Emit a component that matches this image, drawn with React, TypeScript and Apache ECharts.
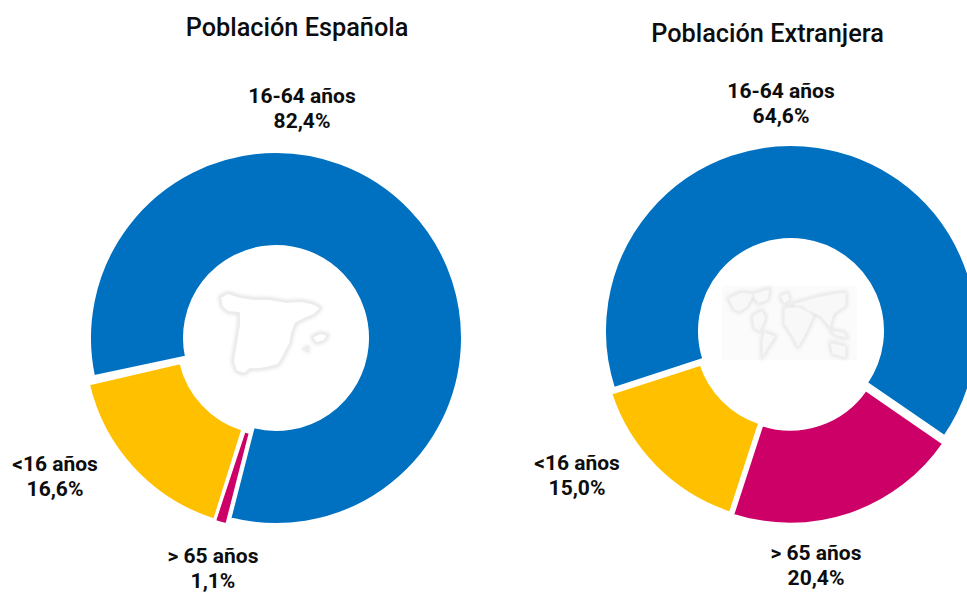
import React, { useEffect, useRef } from "react";
import * as echarts from "echarts";

const categories = ["16-64 años", "> 65 años", "<16 años"];
const spanishValues = [82.4, 1.1, 16.6];
const foreignValues = [64.6, 20.4, 15.0];
const spanishText = ["82,4%", "1,1%", "16,6%"];
const foreignText = ["64,6%", "20,4%", "15,0%"];
const colors = ["#0070C0", "#CC0066", "#FFC000"];
const titles = ["Población Española", "Población Extranjera"];

const spainPath =
  "M0 6 L8 2 L20 6 L34 8 L50 8 L66 11 L82 10 L94 13 L101 17 L94 24 L84 28 L76 32 L72 42 L70 53 L66 60 L62 68 L58 74 L50 76 L40 78 L30 78 L24 83 L16 80 L13 70 L15 58 L17 46 L19 34 L19 22 L8 21 L2 16 Z M92 46 L100 42 L108 44 L104 50 L96 52 Z M84 58 L88 56 L88 60 Z";
const worldPath =
  "M6 12 L20 6 L32 8 L26 20 L18 26 L12 24 Z M30 8 L48 2 L46 14 L36 18 Z M30 30 L40 24 L44 32 L38 46 L32 42 Z M42 46 L54 50 L46 62 L40 72 L40 54 Z M58 10 L66 6 L68 14 L62 18 Z M62 22 L80 20 L92 30 L84 48 L76 62 L70 50 L62 38 Z M70 18 L90 12 L108 8 L124 6 L124 20 L112 28 L108 42 L98 30 L84 24 Z M108 44 L122 46 L126 52 L114 50 Z M108 56 L124 60 L124 72 L110 68 Z";

echarts.graphic.registerShape("spainOutline", echarts.graphic.extendPath(spainPath, {}) as any);
echarts.graphic.registerShape("worldOutline", echarts.graphic.extendPath(worldPath, {}) as any);

export default function App() {
  const ref = useRef<HTMLDivElement>(null);
  useEffect(() => {
    document.body.style.margin = "0";
    const chart = echarts.init(ref.current!, undefined, { renderer: "svg" });
    // One pie per visible slice, so that each slice can be pulled out by its own amount.
    const sliceSeries = (values: number[], center: number[], startAngle: number, shown: number) => ({
      type: "pie",
      center,
      radius: [91.5, 186.5],
      startAngle,
      clockwise: true,
      silent: true,
      label: { show: false },
      labelLine: { show: false },
      data: categories.map((name, i) => ({
        name,
        value: values[i],
        itemStyle:
          i === shown
            ? { color: colors[i], borderColor: "#fff", borderWidth: 3 }
            : { color: "transparent", borderColor: "transparent", borderWidth: 0 },
      })),
    });
    const labelSeries = (values: number[], pct: string[], center: number[], startAngle: number, spots: number[][]) => ({
      type: "pie",
      center,
      radius: [91.5, 186.5],
      startAngle,
      clockwise: true,
      silent: true,
      itemStyle: { color: "transparent" },
      data: categories.map((name, i) => ({ name, value: values[i] })),
      label: {
        show: true,
        position: "outside",
        overflow: "none",
        formatter: (p: any) => `${p.name}\n${pct[p.dataIndex]}`,
        color: "#0d0d0d",
        fontFamily: "Roboto",
        fontSize: 21,
        fontWeight: 700,
        lineHeight: 25,
        align: "center",
      },
      labelLine: { show: false },
      labelLayout: (p: any) => ({
        x: spots[p.dataIndex][0],
        y: spots[p.dataIndex][1],
        align: "center",
        verticalAlign: "middle",
      }),
    });
    const titleStyle = { fontFamily: "Roboto", fontSize: 25.3, fontWeight: 500, color: "#0d0d0d" };
    chart.setOption({
      animation: false,
      backgroundColor: "#fff",
      title: [
        { text: titles[0], left: 292, top: 10, textAlign: "center", textStyle: titleStyle },
        { text: titles[1], left: 762.5, top: 16, textAlign: "center", textStyle: titleStyle },
      ],
      series: [
        sliceSeries(spanishValues, [276, 338], 192, 0),
        sliceSeries(spanishValues, [273, 344], 192, 1),
        sliceSeries(spanishValues, [270, 342], 193, 2),
        sliceSeries(foreignValues, [791, 331], 198, 0),
        sliceSeries(foreignValues, [790.2, 337.7], 198, 1),
        sliceSeries(foreignValues, [788, 335.7], 198, 2),
        labelSeries(spanishValues, spanishText, [276, 338], 192, [[302, 108], [213, 568], [55, 476]]),
        labelSeries(foreignValues, foreignText, [791, 331], 198, [[781, 103], [816, 565], [577, 475]]),
      ],
      graphic: [
        { type: "rect", x: 722, y: 286, shape: { width: 135, height: 74 }, style: { fill: "#fcfbfc" } },
        { type: "spainOutline", x: 220, y: 291, style: { fill: "#ffffff", stroke: "#ececec", lineWidth: 2, shadowBlur: 4, shadowColor: "#d8d8d8" } },
        { type: "worldOutline", x: 722, y: 286, style: { fill: "#f8f8f8", stroke: "#eeeeee", lineWidth: 1.5, shadowBlur: 4, shadowColor: "#d8d8d8" } },
      ],
    });
    return () => chart.dispose();
  }, []);
  return <div ref={ref} style={{ position: "absolute", left: 0, top: 0, width: 967, height: 592, overflow: "hidden" }} />;
}
